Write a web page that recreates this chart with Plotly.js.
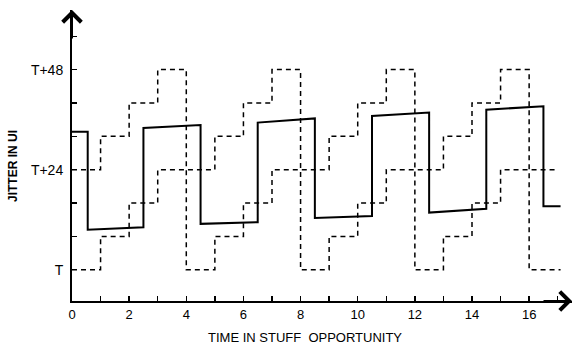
<!DOCTYPE html>
<html>
<head>
<meta charset="utf-8">
<script src="https://cdn.plot.ly/plotly-3.0.1.min.js"></script>
<style>
html,body{margin:0;padding:0;background:#fff;}
#chart{width:575px;height:349px;}
</style>
</head>
<body>
<div id="chart"></div>
<script>
// Dashed staircase starting at T
const stepAX = [0, 1, 2, 3, 5, 6, 7, 8, 9, 10, 11, 13, 14, 15, 16, 17.1];
const stepAY = [0, 8, 16, 24, 32, 40, 48, 0, 8, 16, 24, 32, 40, 48, 0, 0];
// Dashed staircase starting at T+24
const stepBX = [0, 1, 2, 3, 4, 5, 6, 7, 9, 10, 11, 12, 13, 14, 15, 17.0];
const stepBY = [24, 32, 40, 48, 0, 8, 16, 24, 32, 40, 48, 0, 8, 16, 24, 24];
// Solid jitter trace
const solidX = [0, 0.55, 0.55, 2.5, 2.5, 4.5, 4.5, 6.5, 6.5, 8.5, 8.5, 10.5, 10.5, 12.5, 12.5, 14.5, 14.5, 16.5, 16.5, 17.1];
const solidY = [33.1, 33.1, 9.6, 10.2, 34.0, 34.7, 11.0, 11.4, 35.3, 36.3, 12.4, 12.9, 36.9, 37.7, 13.7, 14.6, 38.4, 39.2, 15.2, 15.2];
// Ticks and labels
const yTickVals = [0, 8, 16, 24, 32, 40, 48, 56];
const yTickText = ['T', '', '', 'T+24', '', '', 'T+48', ''];
const xTickVals = [0, 1, 2, 3, 4, 5, 6, 7, 8, 9, 10, 11, 12, 13, 14, 15, 16, 17];
const xTickText = ['0', '', '2', '', '4', '', '6', '', '8', '', '10', '', '12', '', '14', '', '16', ''];
const xTitle = 'TIME IN STUFF  OPPORTUNITY';
const yTitle = 'JITTER IN UI';

const FONT = 'Liberation Sans Narrow, Liberation Sans, Arial, sans-serif';
const dashStyle = {color: '#000', width: 1.5, dash: '5px,4px', shape: 'hv'};

const traces = [
  {x: stepAX, y: stepAY, type: 'scatter', mode: 'lines', line: dashStyle, hoverinfo: 'skip'},
  {x: stepBX, y: stepBY, type: 'scatter', mode: 'lines', line: dashStyle, hoverinfo: 'skip'},
  {x: solidX, y: solidY, type: 'scatter', mode: 'lines', line: {color: '#000', width: 2}, hoverinfo: 'skip'}
];

const layout = {
  width: 575, height: 349,
  margin: {l: 72, r: 3, t: 10, b: 48},
  paper_bgcolor: '#fff', plot_bgcolor: '#fff',
  showlegend: false,
  font: {family: FONT, color: '#000', size: 13},
  xaxis: {
    range: [0, 17.5], showgrid: false, zeroline: false,
    showline: true, linecolor: '#000', linewidth: 2,
    ticks: 'inside', ticklen: 5, tickwidth: 1.5, tickcolor: '#000',
    tickmode: 'array', tickvals: xTickVals, ticktext: xTickText,
    tickfont: {family: FONT, size: 13}
  },
  yaxis: {
    range: [-7.5, 62.3], showgrid: false, zeroline: false,
    showline: true, linecolor: '#000', linewidth: 2,
    ticks: 'inside', ticklen: 5, tickwidth: 1.5, tickcolor: '#000',
    tickmode: 'array', tickvals: yTickVals, ticktext: yTickText,
    tickfont: {family: FONT, size: 14},
    ticklabelstandoff: 4
  },
  annotations: [
    {xref: 'x', yref: 'y', x: 17.5, y: -7.5, ax: -30, ay: 0, axref: 'pixel', ayref: 'pixel',
     text: '', showarrow: true, arrowhead: 4, arrowsize: 1.8, arrowwidth: 2, arrowcolor: '#000'},
    {xref: 'x', yref: 'y', x: 0, y: 62.3, ax: 0, ay: 30, axref: 'pixel', ayref: 'pixel',
     text: '', showarrow: true, arrowhead: 4, arrowsize: 1.8, arrowwidth: 2, arrowcolor: '#000'},
    {xref: 'paper', yref: 'paper', x: 0.466, y: -0.124, xanchor: 'center', yanchor: 'middle',
     text: xTitle, showarrow: false, font: {family: FONT, size: 13, color: '#000'}},
    {xref: 'paper', yref: 'paper', x: -0.118, y: 0.464, xanchor: 'center', yanchor: 'middle',
     text: '<b>' + yTitle + '</b>', textangle: -90, showarrow: false, font: {family: FONT, size: 12, color: '#000'}}
  ]
};

Plotly.newPlot('chart', traces, layout, {staticPlot: true, displayModeBar: false});
</script>
</body>
</html>
